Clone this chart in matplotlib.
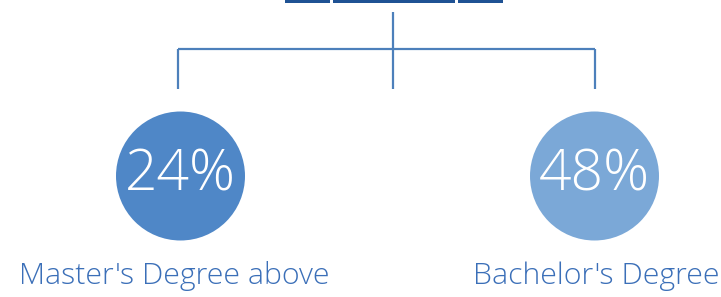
import matplotlib
matplotlib.use("Agg")
import matplotlib.pyplot as plt
from matplotlib.patches import Circle, Rectangle
from matplotlib import font_manager

categories = ["Master's Degree above", "Bachelor's Degree"]
values = [24, 48]
circle_colors = ["#4F87C7", "#7BA8D7"]

W, H = 721, 297
fig = plt.figure(figsize=(W / 100, H / 100), dpi=100)
ax = fig.add_axes([0, 0, 1, 1])
ax.set_xlim(0, W)
ax.set_ylim(H, 0)
ax.set_aspect("equal")
ax.axis("off")

names = {f.name for f in font_manager.fontManager.ttflist}
fam = "Open Sans" if "Open Sans" in names else "DejaVu Sans"

line_c = "#4D80BB"
lw = 1.6
xs = [178, 595]
cx_mid = 393
# top boxes (cut off)
top_dark = "#1F5294"
for x0, x1 in [(285, 330), (333, 455), (458, 503)]:
    ax.add_patch(Rectangle((x0, -2), x1 - x0, 5, color=top_dark, lw=0))
# connector lines
ax.plot([cx_mid, cx_mid], [12, 89], color=line_c, lw=lw, solid_capstyle="butt")
ax.plot([xs[0], xs[1]], [49, 49], color=line_c, lw=lw, solid_capstyle="butt")
for x in xs:
    ax.plot([x, x], [49, 89], color=line_c, lw=lw, solid_capstyle="butt")

centers = [180.5, 594.5]
label_x = [174.5, 596]
for cx, v, c, cat, lx in zip(centers, values, circle_colors, categories, label_x):
    ax.add_patch(Circle((cx, 176), 64.5, color=c, lw=0))
    ax.text(cx, 176, f"{v}%", color="white", fontsize=41, fontweight="light",
            family=fam, ha="center", va="center")
    ax.text(lx, 276, cat, color="#3B6FB8", fontsize=21.8, fontweight="light",
            family=fam, ha="center", va="center")

fig.savefig("out.png", dpi=100)
